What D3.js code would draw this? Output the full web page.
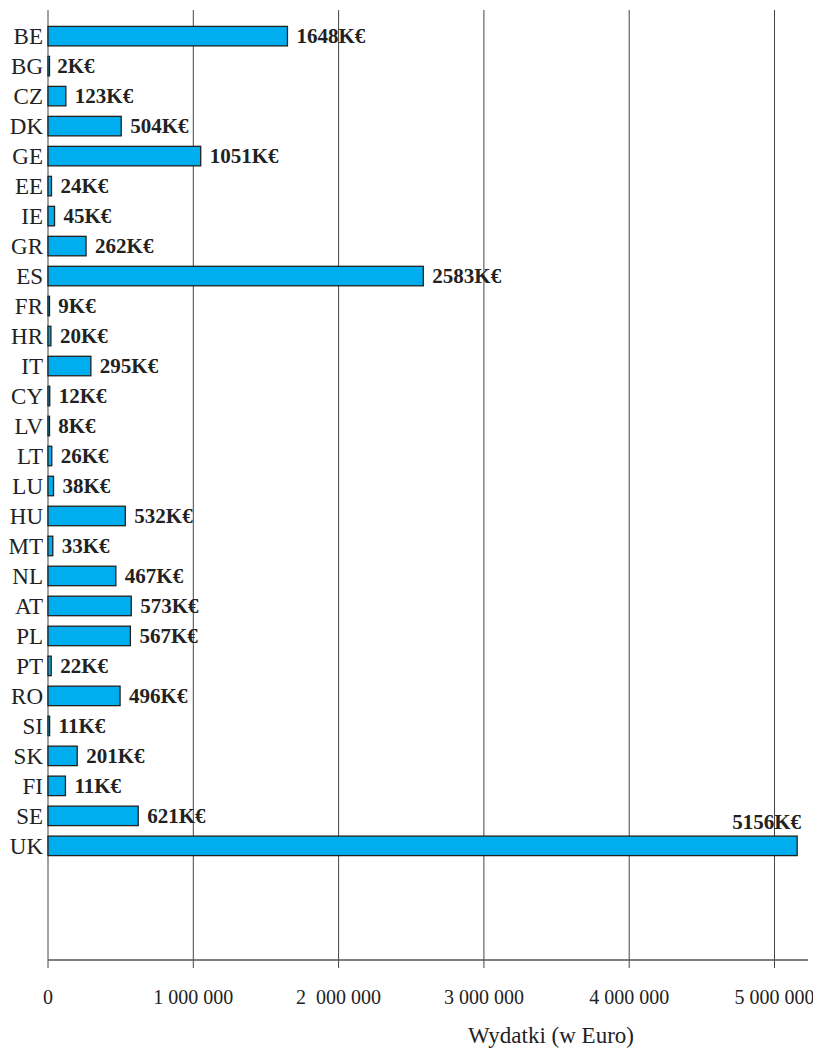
<html>
<head>
<script src="https://cdn.jsdelivr.net/npm/d3@7"></script>
<style>
  body { margin: 0; background: #fff; }
</style>
</head>
<body>
<div id="output"></div>
<script>
    var width = 813;
    var height = 1048;

    // chart data
    var countries = ['BE', 'BG', 'CZ', 'DK', 'GE', 'EE', 'IE', 'GR', 'ES', 'FR', 'HR', 'IT', 'CY', 'LV',
                     'LT', 'LU', 'HU', 'MT', 'NL', 'AT', 'PL', 'PT', 'RO', 'SI', 'SK', 'FI', 'SE', 'UK'];
    // bar lengths in euro, as drawn (FI bar is drawn longer than its label says)
    var spending = [1648000, 2000, 123000, 504000, 1051000, 24000, 45000, 262000, 2583000, 9000, 20000,
                    295000, 12000, 8000, 26000, 38000, 532000, 33000, 467000, 573000, 567000, 22000,
                    496000, 11000, 201000, 120000, 621000, 5156000];
    var valueLabels = ['1648K€', '2K€', '123K€', '504K€', '1051K€', '24K€', '45K€', '262K€', '2583K€',
                       '9K€', '20K€', '295K€', '12K€', '8K€', '26K€', '38K€', '532K€', '33K€', '467K€',
                       '573K€', '567K€', '22K€', '496K€', '11K€', '201K€', '11K€', '621K€', '5156K€'];
    var tickValues = [0, 1000000, 2000000, 3000000, 4000000, 5000000];
    var tickLabels = ['0', '1 000 000', '2  000 000', '3 000 000', '4 000 000', '5 000 000'];
    var axisTitle = 'Wydatki (w Euro)';

    var fill_color = '#00aeef';
    var line_color = '#222';
    var grid_color = '#444';
    var serif = '"Liberation Serif", "DejaVu Serif", serif';

    var x0 = 48, yTop = 21, yAxis = 960;

    var x = d3.scaleLinear()
        .domain([0, 5000000])
        .range([x0, x0 + 5 * 145.3]);

    var y = d3.scaleBand()
        .domain(countries)
        .range([yTop, yTop + 30 * countries.length])
        .paddingInner(0.35)
        .paddingOuter(0.18);

    var svg = d3.select('#output').append('svg')
        .attr('width', width)
        .attr('height', height);

    // vertical grid lines
    svg.append('g').selectAll('line')
        .data(tickValues)
        .enter().append('line')
        .attr('x1', d => x(d)).attr('x2', d => x(d))
        .attr('y1', 10).attr('y2', yAxis + 8)
        .attr('stroke', grid_color)
        .attr('stroke-width', 1);

    // bottom axis line
    svg.append('line')
        .attr('x1', x0).attr('x2', 808)
        .attr('y1', yAxis).attr('y2', yAxis)
        .attr('stroke', '#555')
        .attr('stroke-width', 1.5);

    // tick labels
    svg.append('g').selectAll('text')
        .data(tickValues)
        .enter().append('text')
        .attr('x', d => x(d))
        .attr('y', 1004)
        .attr('text-anchor', 'middle')
        .style('white-space', 'pre')
        .attr('font-family', serif)
        .attr('font-size', 20)
        .attr('fill', '#222')
        .text((d, i) => tickLabels[i]);

    svg.append('text')
        .attr('x', 551)
        .attr('y', 1043)
        .attr('text-anchor', 'middle')
        .attr('font-family', serif)
        .attr('font-size', 23)
        .attr('fill', '#222')
        .text(axisTitle);

    // bars
    svg.append('g').selectAll('rect')
        .data(countries)
        .enter().append('rect')
        .attr('x', x(0))
        .attr('y', d => y(d))
        .attr('width', (d, i) => Math.max(x(spending[i]) - x(0), 1.5))
        .attr('height', y.bandwidth())
        .attr('fill', fill_color)
        .attr('stroke', line_color)
        .attr('stroke-width', 1.3);

    // country labels
    svg.append('g').selectAll('text')
        .data(countries)
        .enter().append('text')
        .attr('x', 43)
        .attr('y', d => y(d) + y.bandwidth() / 2 + 8)
        .attr('text-anchor', 'end')
        .attr('font-family', serif)
        .attr('font-size', 23)
        .attr('fill', '#222')
        .text(d => d);

    // value labels
    svg.append('g').selectAll('text')
        .data(countries)
        .enter().append('text')
        .attr('x', (d, i) => d === 'UK' ? 801 : x(spending[i]) + 9)
        .attr('y', (d, i) => d === 'UK' ? y(d) - 7 : y(d) + y.bandwidth() / 2 + 7)
        .attr('text-anchor', d => d === 'UK' ? 'end' : 'start')
        .attr('font-family', serif)
        .attr('font-weight', 'bold')
        .attr('font-size', 21)
        .attr('fill', '#222')
        .text((d, i) => valueLabels[i]);
</script>
</body>
</html>
